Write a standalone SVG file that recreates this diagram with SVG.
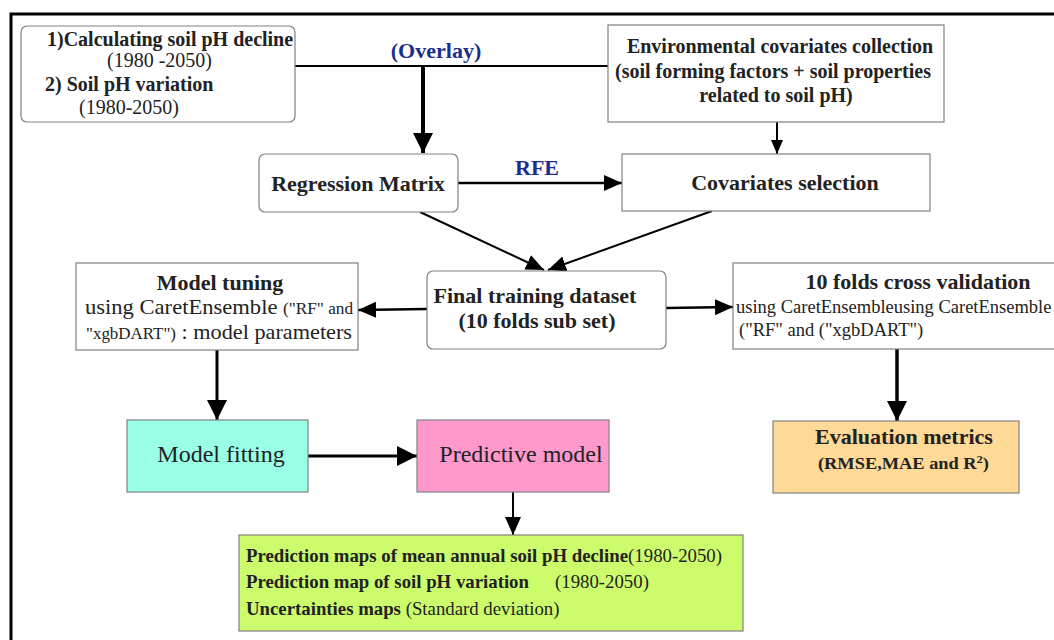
<svg xmlns="http://www.w3.org/2000/svg" width="1054" height="640" viewBox="0 0 1054 640" font-family="'Liberation Serif', 'Times New Roman', serif">
<style>
.box{fill:#fff;stroke:#808080;stroke-width:1.2}
text{font-family:'Liberation Serif','Times New Roman',serif;fill:#222}
.b{font-weight:bold}
.blue{font-weight:bold;fill:#1a2f8c}
.ln{stroke:#000;fill:none}
</style>
<defs>
<marker id="ab" markerUnits="userSpaceOnUse" markerWidth="22" markerHeight="22" refX="20" refY="10" orient="auto"><path d="M0,0 L20,10 L0,20 Z" fill="#000"/></marker>
<marker id="am" markerUnits="userSpaceOnUse" markerWidth="20" markerHeight="20" refX="18" refY="8" orient="auto"><path d="M0,0 L18,8 L0,16 Z" fill="#000"/></marker>
<marker id="as" markerUnits="userSpaceOnUse" markerWidth="16" markerHeight="16" refX="14" refY="6" orient="auto"><path d="M0,0 L14,6 L0,12 Z" fill="#000"/></marker>
</defs>
<rect x="11" y="14" width="1050" height="640" fill="none" stroke="#000" stroke-width="3"/>

<g id="connectors">
<line class="ln" x1="295" y1="66" x2="608" y2="66" stroke-width="2"/>
<line class="ln" x1="423" y1="66" x2="423" y2="153" stroke-width="4" marker-end="url(#ab)"/>
<line class="ln" x1="777" y1="122" x2="777" y2="154" stroke-width="2" marker-end="url(#as)"/>
<line class="ln" x1="458" y1="183" x2="622" y2="183" stroke-width="2.5" marker-end="url(#am)"/>
<line class="ln" x1="420" y1="212" x2="544" y2="270" stroke-width="2" marker-end="url(#am)"/>
<line class="ln" x1="712" y1="211" x2="548" y2="270" stroke-width="2" marker-end="url(#am)"/>
<line class="ln" x1="427" y1="309" x2="358" y2="310" stroke-width="2.5" marker-end="url(#am)"/>
<line class="ln" x1="666" y1="308" x2="733" y2="307" stroke-width="2.5" marker-end="url(#am)"/>
<line class="ln" x1="217" y1="350" x2="217" y2="420" stroke-width="3" marker-end="url(#ab)"/>
<line class="ln" x1="897" y1="349" x2="897" y2="421" stroke-width="3.5" marker-end="url(#ab)"/>
<line class="ln" x1="308" y1="456" x2="417" y2="456" stroke-width="3" marker-end="url(#ab)"/>
<line class="ln" x1="513" y1="492" x2="513" y2="535" stroke-width="2" marker-end="url(#am)"/>
<text class="blue" x="436" y="58" font-size="22" text-anchor="middle">(Overlay)</text>
<text class="blue" x="537" y="175" font-size="22" text-anchor="middle">RFE</text>
</g>

<g id="n-input">
<rect class="box" x="21" y="26" width="274" height="96" rx="6"/>
<text class="b" x="47" y="46" font-size="20">1)Calculating soil pH decline</text>
<text x="107" y="67" font-size="20">(1980 -2050)</text>
<text class="b" x="45" y="91" font-size="20">2) Soil pH variation</text>
<text x="79" y="114" font-size="20">(1980-2050)</text>
</g>

<g id="n-env">
<rect class="box" x="608" y="25" width="336" height="97"/>
<text class="b" x="780" y="53" font-size="20" text-anchor="middle">Environmental covariates collection</text>
<text class="b" x="773" y="78" font-size="20" text-anchor="middle">(soil forming factors + soil properties</text>
<text class="b" x="776" y="102" font-size="20" text-anchor="middle">related to soil pH)</text>
</g>

<g id="n-regression">
<rect class="box" x="259" y="154" width="199" height="58" rx="6"/>
<text class="b" x="358" y="191" font-size="22" text-anchor="middle">Regression Matrix</text>
</g>

<g id="n-covsel">
<rect class="box" x="622" y="154" width="308" height="57"/>
<text class="b" x="785" y="190" font-size="22" text-anchor="middle">Covariates selection</text>
</g>

<g id="n-final">
<rect class="box" x="427" y="271" width="239" height="78" rx="6"/>
<text class="b" x="535" y="303" font-size="22" text-anchor="middle">Final training dataset</text>
<text class="b" x="537" y="328" font-size="22" text-anchor="middle">(10 folds sub set)</text>
</g>

<g id="n-tuning">
<rect class="box" x="76" y="263" width="282" height="87"/>
<text class="b" x="220" y="290" font-size="22" text-anchor="middle">Model tuning</text>
<text x="85" y="314" font-size="21" textLength="268" lengthAdjust="spacingAndGlyphs">using CaretEnsemble <tspan font-size="16">("RF" and</tspan></text>
<text x="86" y="339" textLength="266" lengthAdjust="spacingAndGlyphs"><tspan font-size="16">"xgbDART")</tspan><tspan font-size="21"> : model parameters</tspan></text>
</g>

<g id="n-cv">
<rect class="box" x="733" y="263" width="325" height="86"/>
<text class="b" x="918" y="289" font-size="22" text-anchor="middle">10 folds cross validation</text>
<text x="736" y="313" font-size="18.5">using CaretEnsembleusing CaretEnsemble</text>
<text x="739" y="336" font-size="18.5">("RF" and ("xgbDART")</text>
</g>

<g id="n-fitting">
<rect x="127" y="420" width="181" height="72" fill="#99ffe5" stroke="#808080" stroke-width="1.2"/>
<text x="221" y="462" font-size="24" text-anchor="middle">Model fitting</text>
</g>

<g id="n-predictive">
<rect x="417" y="420" width="192" height="72" fill="#ff99cc" stroke="#808080" stroke-width="1.2"/>
<text x="521" y="462" font-size="24" text-anchor="middle">Predictive model</text>
</g>

<g id="n-eval">
<rect x="773" y="421" width="246" height="72" fill="#ffd996" stroke="#808080" stroke-width="1.2"/>
<text class="b" x="904" y="444" font-size="22" text-anchor="middle">Evaluation metrics</text>
<text class="b" x="818" y="469" font-size="16" textLength="171" lengthAdjust="spacingAndGlyphs">(RMSE,MAE and R<tspan font-size="11" dy="-6">2</tspan><tspan dy="6">)</tspan></text>
</g>

<g id="n-output">
<rect x="239" y="535" width="504" height="96" fill="#ccfc6c" stroke="#808080" stroke-width="1.2"/>
<text x="246" y="562" font-size="18.8"><tspan class="b">Prediction maps of mean annual soil pH decline</tspan>(1980-2050)</text>
<text x="246" y="588" font-size="18.8"><tspan class="b">Prediction map of soil pH variation</tspan><tspan x="555">(1980-2050)</tspan></text>
<text x="246" y="615" font-size="18.8"><tspan class="b">Uncertainties maps</tspan> (Standard deviation)</text>
</g>
</svg>
